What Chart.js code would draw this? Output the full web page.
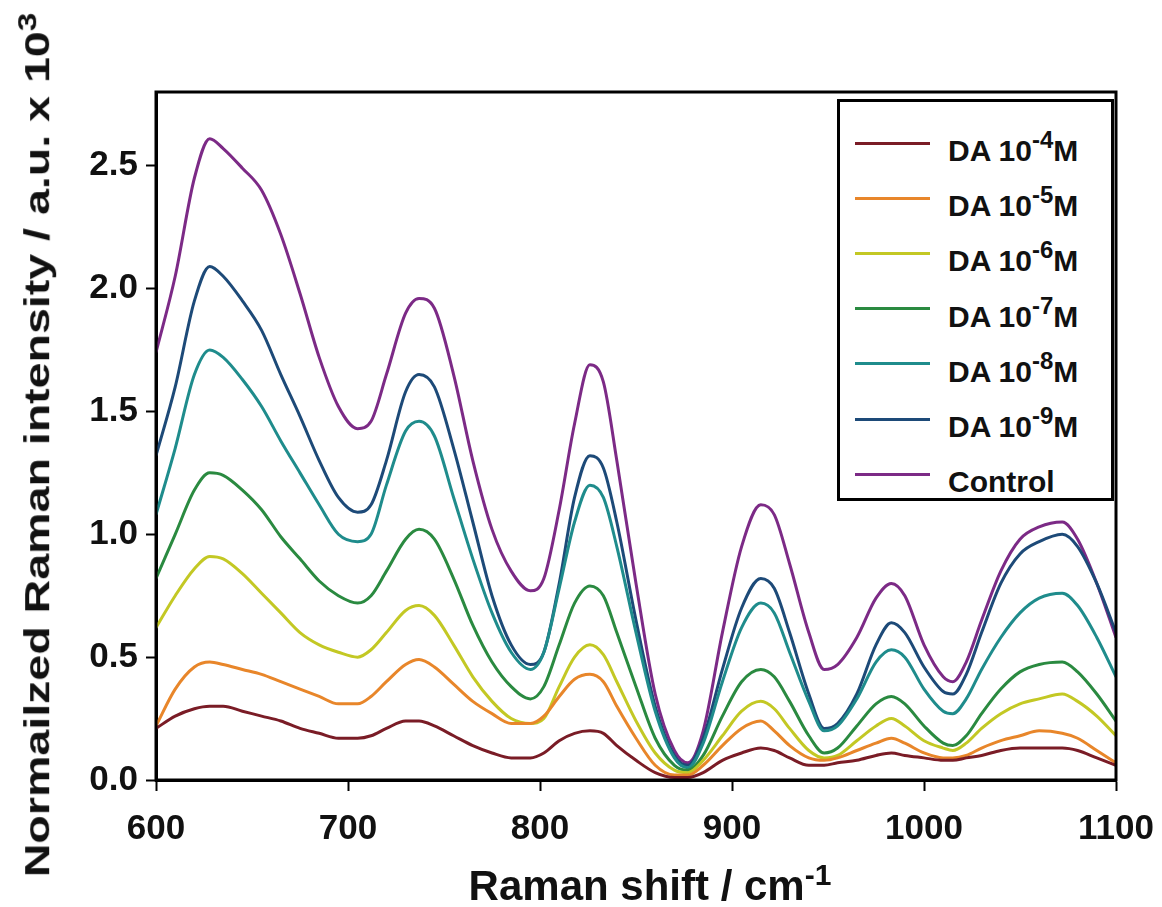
<!DOCTYPE html>
<html>
<head>
<meta charset="utf-8">
<script src="https://cdn.jsdelivr.net/npm/chart.js@4.4.0/dist/chart.umd.min.js"></script>
<style>
  body { margin: 0; background: #fff; font-family: "Liberation Sans", Arial, sans-serif; }
  #wrap { position: relative; width: 1162px; height: 907px; }
  #legendBox { position: absolute; left: 837px; top: 99px; width: 271px; height: 396px; border: 3px solid #000; background: #fff; }
  .row { position: absolute; left: 0; height: 0; }
  .swatch { position: absolute; left: 15px; top: -1.5px; width: 75px; height: 3px; }
  .txt { position: absolute; left: 108px; top: -7px; font-weight: bold; font-size: 30px; white-space: nowrap; color: #111; line-height: 30px; }
  .txt sup { font-size: 24px; vertical-align: baseline; position: relative; top: -13px; }
  #xTitle { position: absolute; left: 0; width: 1300px; text-align: center; top: 858px; font-weight: bold; font-size: 42px; color: #111; white-space: nowrap; }
  #xTitle sup { font-size: 30px; }
  #yTitle { position: absolute; left: 35px; top: 445px; font-weight: bold; font-size: 35px; color: #111; white-space: nowrap; transform: translate(-50%, -50%) rotate(-90deg) scale(1.33, 1); }
  #yTitle sup { font-size: 25px; }
</style>
</head>
<body>
<div id="wrap">
  <canvas id="myChart"></canvas>
  <div id="yTitle">Normailzed Raman intensity / a.u. x 10<sup>3</sup></div>
  <div id="xTitle">Raman shift / cm<sup>-1</sup></div>
  <div id="legendBox"></div>
</div>
<script>
const shift = [600,610,620,628,635,645,655,665,675,685,695,705,712,720,730,737,745,755,765,775,785,795,802,810,818,826,833,840,850,860,870,877,885,895,905,915,922,930,940,948,955,965,975,983,990,1000,1010,1015,1022,1030,1040,1050,1060,1072,1080,1090,1100];

const da4 = [0.21,0.26,0.29,0.30,0.30,0.28,0.26,0.24,0.21,0.19,0.17,0.17,0.18,0.21,0.24,0.24,0.22,0.18,0.14,0.11,0.09,0.09,0.11,0.16,0.19,0.20,0.19,0.14,0.08,0.03,0.01,0.01,0.03,0.08,0.11,0.13,0.12,0.09,0.06,0.06,0.07,0.08,0.10,0.11,0.10,0.09,0.08,0.08,0.09,0.10,0.12,0.13,0.13,0.13,0.12,0.09,0.06];
const da5 = [0.22,0.37,0.46,0.48,0.47,0.45,0.43,0.40,0.37,0.34,0.31,0.31,0.34,0.40,0.47,0.49,0.46,0.39,0.32,0.27,0.23,0.23,0.26,0.34,0.41,0.43,0.40,0.30,0.17,0.06,0.02,0.02,0.06,0.14,0.21,0.24,0.20,0.14,0.09,0.08,0.09,0.12,0.15,0.17,0.15,0.11,0.09,0.09,0.10,0.13,0.16,0.18,0.20,0.19,0.17,0.12,0.07];
const da6 = [0.62,0.75,0.86,0.91,0.90,0.84,0.76,0.68,0.60,0.55,0.52,0.50,0.53,0.60,0.69,0.71,0.67,0.55,0.42,0.32,0.25,0.23,0.25,0.38,0.50,0.55,0.51,0.40,0.24,0.11,0.04,0.03,0.08,0.18,0.28,0.32,0.29,0.21,0.12,0.09,0.10,0.16,0.22,0.25,0.22,0.16,0.13,0.12,0.15,0.21,0.27,0.31,0.33,0.35,0.32,0.26,0.18];
const da7 = [0.82,1.00,1.18,1.25,1.24,1.18,1.10,0.99,0.90,0.81,0.75,0.72,0.75,0.85,0.98,1.02,0.98,0.82,0.63,0.48,0.38,0.33,0.38,0.55,0.72,0.79,0.75,0.60,0.38,0.17,0.06,0.04,0.10,0.26,0.40,0.45,0.42,0.32,0.18,0.11,0.13,0.22,0.31,0.34,0.31,0.22,0.15,0.14,0.18,0.27,0.37,0.44,0.47,0.48,0.44,0.35,0.24];
const da8 = [1.08,1.35,1.65,1.75,1.72,1.63,1.52,1.38,1.25,1.12,1.00,0.97,1.00,1.20,1.42,1.46,1.40,1.15,0.90,0.68,0.52,0.45,0.52,0.78,1.05,1.20,1.15,0.95,0.60,0.28,0.09,0.05,0.15,0.40,0.62,0.72,0.68,0.52,0.32,0.20,0.22,0.33,0.48,0.53,0.50,0.37,0.28,0.27,0.33,0.45,0.58,0.68,0.74,0.76,0.71,0.58,0.42];
const da9 = [1.32,1.60,1.95,2.09,2.05,1.95,1.83,1.65,1.48,1.30,1.15,1.09,1.12,1.30,1.58,1.65,1.60,1.35,1.05,0.75,0.55,0.47,0.52,0.80,1.15,1.32,1.27,1.05,0.65,0.30,0.10,0.06,0.17,0.45,0.70,0.82,0.78,0.60,0.35,0.21,0.23,0.35,0.55,0.64,0.60,0.46,0.36,0.35,0.43,0.60,0.80,0.92,0.97,1.00,0.95,0.80,0.60];
const control = [1.74,2.05,2.45,2.61,2.57,2.49,2.40,2.22,1.98,1.72,1.52,1.43,1.46,1.65,1.90,1.96,1.92,1.65,1.30,1.02,0.85,0.77,0.82,1.10,1.45,1.69,1.62,1.30,0.80,0.35,0.12,0.07,0.20,0.60,0.95,1.12,1.08,0.88,0.60,0.45,0.47,0.58,0.74,0.80,0.75,0.55,0.42,0.40,0.48,0.65,0.85,0.98,1.03,1.05,0.98,0.80,0.58];

const labels = ["DA 10<sup>-4</sup>M", "DA 10<sup>-5</sup>M", "DA 10<sup>-6</sup>M", "DA 10<sup>-7</sup>M", "DA 10<sup>-8</sup>M", "DA 10<sup>-9</sup>M", "Control"];
const colors = ["#7a1c26", "#e8862a", "#c3c824", "#2a8a40", "#1f8c8c", "#1d4a78", "#7c2a86"];
const xTicks = [600, 700, 800, 900, 1000, 1100];
const yTicks = [0.0, 0.5, 1.0, 1.5, 2.0, 2.5];

const series = [da4, da5, da6, da7, da8, da9, control];

const datasets = series.map((s, i) => {
    return {
        label: labels[i].replace(/<\/?sup>/g, ""),
        data: s.map((v, j) => ({ x: shift[j], y: v })),
        borderColor: colors[i],
        borderWidth: 3,
        pointRadius: 0,
        fill: false,
        tension: 0.4,
        cubicInterpolationMode: "monotone"
    };
});

// legend is html so the exponents can be superscripts
const box = document.getElementById("legendBox");
labels.forEach((lab, i) => {
    const row = document.createElement("div");
    row.className = "row";
    row.style.top = (41 + i * 55.2) + "px";
    row.innerHTML = `<div class="swatch" style="background:${colors[i]}"></div><div class="txt">${lab}</div>`;
    box.appendChild(row);
});

const frame = {
    id: "frame",
    afterDraw(c) {
        const a = c.chartArea, ctx = c.ctx;
        ctx.save();
        ctx.strokeStyle = "#000";
        ctx.lineWidth = 3;
        ctx.strokeRect(a.left, a.top, a.right - a.left, a.bottom - a.top);
        ctx.restore();
    }
};

const tickFont = { family: "'Liberation Sans', Arial, sans-serif", size: 35, weight: "bold" };

new Chart("myChart", {
    type: "line",
    data: { datasets: datasets },
    options: {
        responsive: true,
        maintainAspectRatio: false,
        animation: false,
        layout: { padding: { left: 0, top: 92, right: 46, bottom: 0 } },
        plugins: { legend: { display: false }, tooltip: { enabled: false } },
        scales: {
            x: {
                type: "linear",
                min: 600,
                max: 1100,
                afterBuildTicks: (ax) => { ax.ticks = xTicks.map(v => ({ value: v })); },
                afterFit: (ax) => { ax.height = 127; ax.paddingLeft = 0; ax.paddingRight = 0; },
                grid: { drawOnChartArea: false, color: "#000", tickLength: 11, tickWidth: 2 },
                border: { color: "#000", width: 3 },
                ticks: { color: "#111", font: tickFont, padding: 17, maxRotation: 0, callback: (v) => String(v) }
            },
            y: {
                min: 0,
                max: 2.8,
                afterBuildTicks: (ax) => { ax.ticks = yTicks.map(v => ({ value: v })); },
                afterFit: (ax) => { ax.width = 156; ax.paddingTop = 0; ax.paddingBottom = 0; },
                grid: { drawOnChartArea: false, color: "#000", tickLength: 10, tickWidth: 2 },
                border: { color: "#000", width: 3 },
                ticks: { color: "#111", font: tickFont, padding: 8, callback: (v) => v.toFixed(1) }
            }
        }
    },
    plugins: [frame]
});
</script>
</body>
</html>
